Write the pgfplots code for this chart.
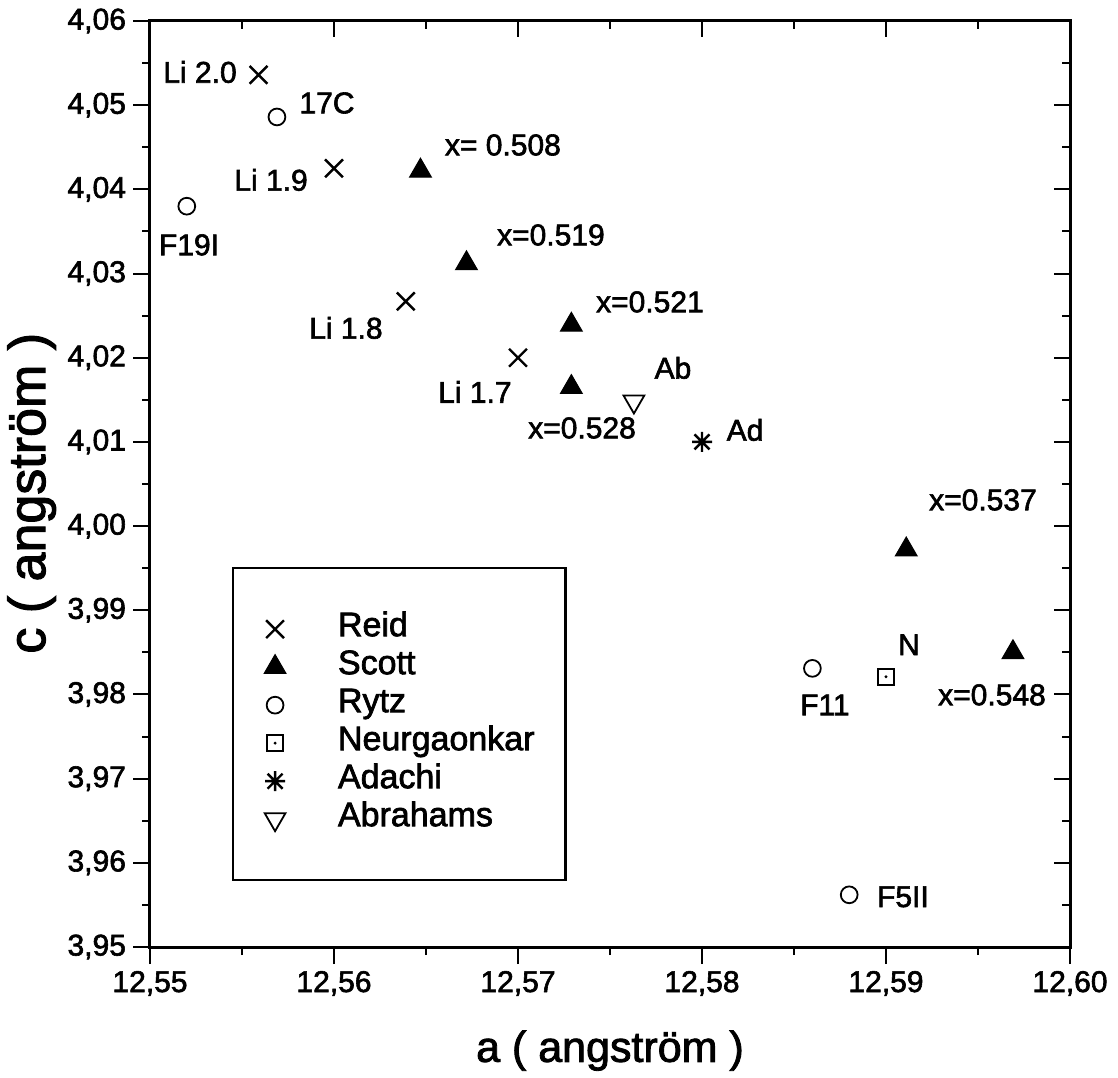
\documentclass[border=0pt]{standalone}
\usepackage{fontspec}
\setmainfont{Liberation Sans}[FakeBold=2]
\usepackage{pgfplots}
\pgfplotsset{compat=1.18}

% open square with a dot in the middle (Neurgaonkar)
\pgfdeclareplotmark{sqdot}{%
  \pgfpathrectangle{\pgfqpoint{-\pgfplotmarksize}{-\pgfplotmarksize}}{\pgfqpoint{2\pgfplotmarksize}{2\pgfplotmarksize}}%
  \pgfusepathqstroke
  \pgfpathcircle{\pgfpointorigin}{0.2\pgfplotmarksize}%
  \pgfusepathqfill
}
% eight-armed asterisk (Adachi)
\pgfdeclareplotmark{star8}{%
  \pgfpathmoveto{\pgfqpoint{-\pgfplotmarksize}{0pt}}\pgfpathlineto{\pgfqpoint{\pgfplotmarksize}{0pt}}%
  \pgfpathmoveto{\pgfqpoint{0pt}{-\pgfplotmarksize}}\pgfpathlineto{\pgfqpoint{0pt}{\pgfplotmarksize}}%
  \pgfpathmoveto{\pgfqpoint{-.75\pgfplotmarksize}{-.75\pgfplotmarksize}}\pgfpathlineto{\pgfqpoint{.75\pgfplotmarksize}{.75\pgfplotmarksize}}%
  \pgfpathmoveto{\pgfqpoint{-.75\pgfplotmarksize}{.75\pgfplotmarksize}}\pgfpathlineto{\pgfqpoint{.75\pgfplotmarksize}{-.75\pgfplotmarksize}}%
  \pgfusepathqstroke
}

\pgfplotsset{
  base/.style={
    scale only axis, width=460pt, height=463pt,
    xmin=12.55, xmax=12.60, ymin=3.95, ymax=4.06,
    xtick={12.55,12.56,12.57,12.58,12.59,12.60},
    ytick={3.95,3.96,3.97,3.98,3.99,4.00,4.01,4.02,4.03,4.04,4.05,4.06},
    minor x tick num=1, minor y tick num=1,
    axis line style={line width=1.5pt},
    tick style={black, line width=1pt},
    major tick length=8.5pt, minor tick length=4pt,
  }
}

\begin{document}
\begin{tikzpicture}
\begin{axis}[base, name=main,
    clip=false,
    xtick pos=left, ytick pos=left, tick align=outside,
    /pgf/number format/.cd, use comma, fixed, fixed zerofill, precision=2, 1000 sep={}, assume math mode=true,
    /pgfplots/.cd,
    tick label style={font=\fontsize{15}{18}\selectfont},
    xlabel={a ( angström )}, ylabel={c ( angström )},
    xlabel style={font=\fontsize{21.5}{24}\selectfont, at={(axis description cs:0.5,-0.124)}, anchor=base},
    ylabel style={font=\fontsize{26}{28}\selectfont, at={(axis description cs:-0.114,0.49)}, anchor=base, rotate=0},
    legend style={
      at={(rel axis cs:0.0891,0.4104)}, anchor=north west,
      draw=black, line width=1.2pt,
      font=\fontsize{17}{19}\selectfont,
      inner xsep=15.5pt, inner ysep=21pt,
      row sep=0pt,
      nodes={inner sep=0pt, text height=13pt, text depth=6pt},
      /tikz/every odd column/.append style={column sep=26pt},
    },
    legend cell align=left,
  ]
  \path (rel axis cs:-0.16304,-0.13823) rectangle (rel axis cs:1.05217,1.02268);

  % Reid
  \addplot[only marks, mark=x, mark size=6.3pt, mark options={line width=1.2pt, black}]
    coordinates {(12.5559,4.0536) (12.5600,4.0425) (12.5639,4.0267) (12.5700,4.0200)};
  \addlegendentry{Reid}
  % Scott
  \addplot[only marks, mark=triangle*, mark size=6.3pt, mark options={black, fill=black, line width=0.5pt}]
    coordinates {(12.5647,4.0422) (12.5672,4.0312) (12.5729,4.0239) (12.5729,4.0165) (12.5911,3.9972) (12.5969,3.9850)};
  \addlegendentry{Scott}
  % Rytz
  \addplot[only marks, mark=o, mark size=4.2pt, mark options={line width=0.9pt, black}]
    coordinates {(12.5569,4.0486) (12.5520,4.0380) (12.5860,3.9831) (12.5880,3.9562)};
  \addlegendentry{Rytz}
  % Neurgaonkar
  \addplot[only marks, mark=sqdot, mark size=4pt, mark options={line width=0.9pt, black, fill=black}]
    coordinates {(12.5900,3.9821)};
  \addlegendentry{Neurgaonkar}
  % Adachi
  \addplot[only marks, mark=star8, mark size=5pt, mark options={line width=1.2pt, black}]
    coordinates {(12.5800,4.0100)};
  \addlegendentry{Adachi}
  % Abrahams
  \addplot[only marks, mark=triangle, mark size=6pt, mark options={line width=0.9pt, black, rotate=180}]
    coordinates {(12.5763,4.0148)};
  \addlegendentry{Abrahams}

  \begin{scope}[every node/.style={font=\fontsize{15}{18}\selectfont, inner sep=0pt}]
  \node at (axis cs:12.55272,4.05394) {Li 2.0};
  \node at (axis cs:12.55962,4.05026) {17C};
  \node at (axis cs:12.56918,4.04527) {x= 0.508};
  \node at (axis cs:12.55658,4.04112) {Li 1.9};
  \node at (axis cs:12.55212,4.03340) {F19I};
  \node at (axis cs:12.57179,4.03458) {x=0.519};
  \node at (axis cs:12.56065,4.02354) {Li 1.8};
  \node at (axis cs:12.56766,4.01594) {Li 1.7};
  \node at (axis cs:12.57348,4.01166) {x=0.528};
  \node at (axis cs:12.57717,4.02663) {x=0.521};
  \node at (axis cs:12.57842,4.01879) {Ab};
  \node at (axis cs:12.58234,4.01142) {Ad};
  \node at (axis cs:12.59527,4.00311) {x=0.537};
  \node at (axis cs:12.59125,3.98589) {N};
  \node at (axis cs:12.58668,3.97876) {F11};
  \node at (axis cs:12.59576,3.97995) {x=0.548};
  \node at (axis cs:12.59092,3.95596) {F5II};
  \end{scope}
\end{axis}
\begin{axis}[base,
    at={(main.south west)}, anchor=south west,
    xtick pos=right, ytick pos=right, tick align=inside,
    major tick length=8pt,
    xticklabels={}, yticklabels={},
  ]
\end{axis}
\end{tikzpicture}
\end{document}
